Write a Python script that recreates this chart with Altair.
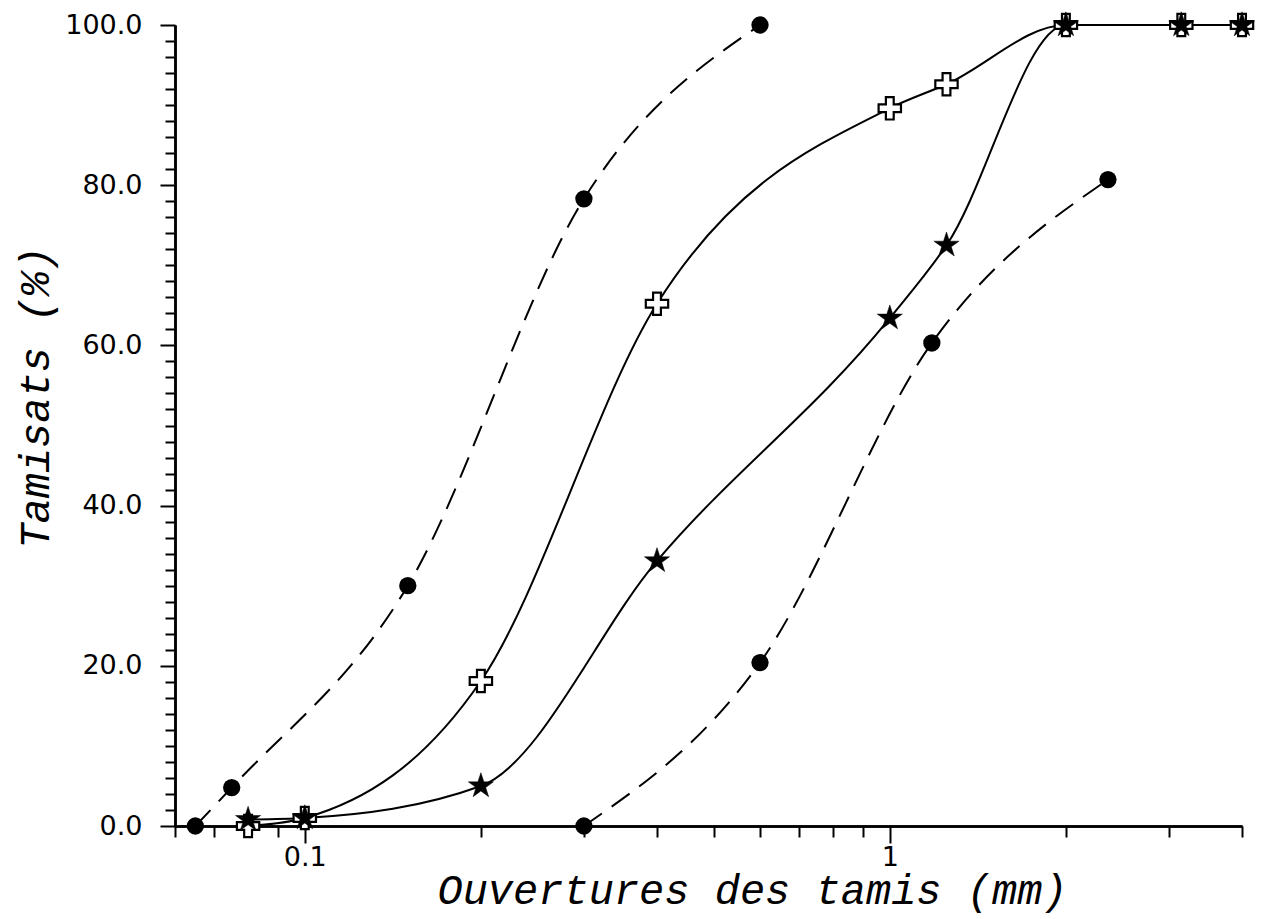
import altair as alt
import pandas as pd

# ---- data ----
# fine sand (dashed line, filled circles)
fin_x = [0.065, 0.075, 0.15, 0.3, 0.6]
fin_y = [0.0, 4.8, 30.0, 78.3, 100.0]
# coarse sand (dashed line, filled circles)
gros_x = [0.3, 0.6, 1.18, 2.36]
gros_y = [0.0, 20.4, 60.3, 80.7]
# sieves used for the two mixtures
tamis_x = [0.08, 0.1, 0.2, 0.4, 1.0, 1.25, 2.0, 3.15, 4.0]
croix_y = [0.0, 1.0, 18.1, 65.2, 89.6, 92.6, 100.0, 100.0, 100.0]
etoile_y = [0.8, 1.0, 5.0, 33.1, 63.4, 72.5, 100.0, 100.0, 100.0]

# axis ticks
x_minor = [0.06, 0.07, 0.08, 0.09, 0.2, 0.3, 0.4, 0.5, 0.6, 0.7, 0.8, 0.9, 2, 3, 4]
x_major = [0.1, 1]
y_minor = [v for v in range(0, 101, 2) if v % 20]
y_major = [0, 20, 40, 60, 80, 100]

df_fin = pd.DataFrame({"x": fin_x, "y": fin_y})
df_gros = pd.DataFrame({"x": gros_x, "y": gros_y})
df_croix = pd.DataFrame({"x": tamis_x, "y": croix_y})
df_etoile = pd.DataFrame({"x": tamis_x, "y": etoile_y})

x_scale = alt.Scale(type="log", domain=[0.06, 4], nice=False)
y_scale = alt.Scale(domain=[0, 100], nice=False)

x_major_axis = alt.Axis(
    orient="bottom",
    values=x_major,
    format="~g",
    labelOverlap=False,
    tickSize=17,
    labelPadding=1,
    title="Ouvertures des tamis (mm)",
    titleX=577,
    titleY=77,
    titleAlign="center",
    titleBaseline="alphabetic",
    grid=False,
)
x_minor_axis = alt.Axis(
    orient="bottom", values=x_minor, labels=False, tickSize=11, title="", grid=False
)
y_major_axis = alt.Axis(
    orient="left",
    values=y_major,
    format=".1f",
    labelOverlap=False,
    tickSize=15,
    labelPadding=18,
    title="Tamisats (%)",
    titleX=-127,
    titleY=372,
    titleAngle=270,
    titleAlign="center",
    titleBaseline="alphabetic",
    grid=False,
)
y_minor_axis = alt.Axis(
    orient="left", values=y_minor, labels=False, tickSize=10, title="", grid=False
)

cross_path = "M-0.35,-1H0.35V-0.35H1V0.35H0.35V1H-0.35V0.35H-1V-0.35H-0.35Z"
star_path = (
    "M0,-1L0.2245,-0.309L0.9511,-0.309L0.3633,0.118L0.5878,0.809"
    "L0,0.382L-0.5878,0.809L-0.3633,0.118L-0.9511,-0.309L-0.2245,-0.309Z"
)


def enc(chart, xa=None, ya=None):
    xk = {"axis": xa} if xa is not None else {"axis": None}
    yk = {"axis": ya} if ya is not None else {"axis": None}
    return chart.encode(
        x=alt.X("x:Q", scale=x_scale, **xk),
        y=alt.Y("y:Q", scale=y_scale, **yk),
    )


def line(df, dashed):
    kw = {"strokeDash": [22, 12]} if dashed else {}
    return alt.Chart(df).mark_line(
        color="black", strokeWidth=2, interpolate="monotone", **kw
    )


layers = [
    enc(line(df_fin, True), x_major_axis, y_major_axis),
    enc(line(df_gros, True), x_minor_axis, y_minor_axis),
    enc(line(df_croix, False)),
    enc(line(df_etoile, False)),
    enc(alt.Chart(df_croix).mark_point(
        shape=cross_path, filled=True, fill="white", stroke="black",
        strokeWidth=2.2, size=500, opacity=1
    )),
    enc(alt.Chart(df_etoile).mark_point(
        shape=star_path, filled=True, fill="black", stroke="black", strokeWidth=0.5,
        size=700, opacity=1
    )),
    enc(alt.Chart(df_fin).mark_point(
        shape="circle", filled=True, fill="black", size=300, opacity=1
    )),
    enc(alt.Chart(df_gros).mark_point(
        shape="circle", filled=True, fill="black", size=300, opacity=1
    )),
]

chart = alt.layer(*layers).resolve_axis(
    x="independent", y="independent"
).properties(
    width=1067,
    height=801,
    autosize=alt.AutoSizeParams(type="none"),
    padding={"left": 167, "top": 17, "right": 21, "bottom": 93},
).configure_view(stroke=None).configure_axis(
    domainColor="black",
    domainWidth=2.5,
    tickColor="black",
    tickWidth=2,
    labelColor="black",
    labelFont="DejaVu Sans",
    labelFontSize=27,
    titleColor="black",
    titleFont="Liberation Mono",
    titleFontStyle="italic",
    titleFontWeight="normal",
    titleFontSize=42,
)

chart.save("out.html", embed_options={"renderer": "svg", "actions": False})
